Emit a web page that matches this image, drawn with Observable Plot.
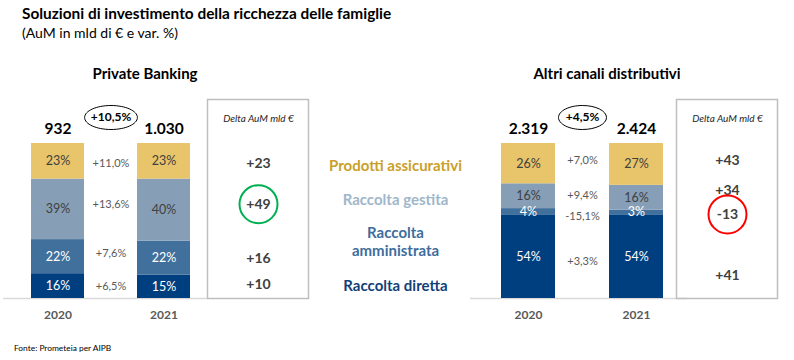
<!DOCTYPE html>
<html><head><meta charset="utf-8">
<script src="https://cdn.jsdelivr.net/npm/d3@7"></script>
<script src="https://cdn.jsdelivr.net/npm/@observablehq/plot@0.6"></script>
<style>
body{margin:0;background:#fff;}
#root{position:relative;width:794px;height:360px;overflow:hidden;font-family:Lato, sans-serif;background:#fff;}
#root svg{position:absolute;left:0;top:0;}
.t{position:absolute;white-space:nowrap;line-height:1;}
</style></head><body>
<div id="root">
  <div class="t" style="left:22px;top:6px;font-size:15.4px;font-weight:bold;color:#000">Soluzioni di investimento della ricchezza delle famiglie</div>
  <div class="t" style="left:22px;top:26px;font-size:14px;color:#000">(AuM in mld di € e var. %)</div>
  <div class="t" style="left:45px;width:200px;text-align:center;top:66px;font-size:15px;font-weight:bold;color:#000">Private Banking</div>
  <div class="t" style="left:507px;width:200px;text-align:center;top:66px;font-size:15px;font-weight:bold;color:#000">Altri canali distributivi</div>
  <div class="t" style="left:14px;top:344px;font-size:8.4px;color:#000">Fonte: Prometeia per AIPB</div>
</div>
<script>
// ---- data ----
const years = ["2020", "2021"];
const segments = ["Raccolta diretta", "Raccolta amministrata", "Raccolta gestita", "Prodotti assicurativi"];
const segmentColors = ["#003F7F", "#41709C", "#879FB6", "#E8C46A"];
const legendColors = ["#133F77", "#3E6D9C", "#A0B6C9", "#C9A02A"];

// Private Banking
const pbShare2020 = [16, 22, 39, 23];
const pbShare2021 = [15, 22, 40, 23];
const pbTotal = [932, 1030];
const pbTotalGrowth = 10.5;
const pbGrowth = [6.5, 7.6, 13.6, 11.0];
const pbDelta = [10, 16, 49, 23];

// Altri canali distributivi
const acShare2020 = [54, 4, 16, 26];
const acShare2021 = [54, 3, 16, 27];
const acTotal = [2319, 2424];
const acTotalGrowth = 4.5;
const acGrowth = [3.3, -15.1, 9.4, 7.0];
const acDelta = [41, -13, 34, 43];

// ---- helpers ----
const it = d3.formatLocale({decimal: ",", thousands: ".", grouping: [3], currency: ["", "€"], minus: "-"});
const fPct = v => it.format("+.1f")(v) + "%";
const fTot = it.format(",d");
const fDelta = it.format("+d");
const FONT = "Lato, sans-serif";

function stackRows(s2020, s2021) {
  const rows = [];
  [s2020, s2021].forEach((shares, j) => {
    let acc = 0;
    shares.forEach((v, i) => {
      rows.push({year: years[j], seg: segments[i], idx: i, v, y1: acc, y2: acc + v, mid: acc + v / 2});
      acc += v;
    });
  });
  return rows;
}

function ellipse(aspect) {
  return {
    draw(ctx, size) {
      const r = Math.sqrt(size / Math.PI), rx = r * aspect, ry = r, k = 0.5523;
      ctx.moveTo(rx, 0);
      ctx.bezierCurveTo(rx, ry * k, rx * k, ry, 0, ry);
      ctx.bezierCurveTo(-rx * k, ry, -rx, ry * k, -rx, 0);
      ctx.bezierCurveTo(-rx, -ry * k, -rx * k, -ry, 0, -ry);
      ctx.bezierCurveTo(rx * k, -ry, rx, -ry * k, rx, 0);
      ctx.closePath();
    }
  };
}

function panel({s2020, s2021, totals, totalGrowth, growth, xRange, lineX, growthNudge, aspect}) {
  const rows = stackRows(s2020, s2021);
  const avgMid = segments.map((s, i) => (rows[i].mid + rows[i + 4].mid) / 2);
  return Plot.plot({
    width: 794, height: 360,
    marginLeft: lineX[0], marginRight: 794 - lineX[1], marginTop: 143, marginBottom: 62,
    x: {type: "band", domain: ["2020", "var", "2021"], range: xRange, padding: 0},
    y: {domain: [0, 100], axis: null},
    color: {domain: segments, range: segmentColors},
    style: {background: "transparent", fontFamily: FONT, overflow: "visible"},
    marks: [
      Plot.ruleY([0], {stroke: "#d9d9d9", strokeWidth: 1.5}),
      Plot.rectY(rows, {x: "year", y1: "y1", y2: "y2", fill: "seg"}),
      Plot.text(rows, {x: "year", y: "mid", text: d => d.v + "%", fill: d => d.idx < 2 ? "#ffffff" : "#404040", fontSize: 12.5}),
      Plot.text(years.map((yr, j) => ({yr, t: totals[j]})), {x: "yr", y: () => 100, dy: -14, text: d => fTot(d.t), fontWeight: "bold", fontSize: 15.5, fill: "#000"}),
      Plot.dot([totalGrowth], {x: () => "var", y: () => 100, dy: -26, r: 12, symbol: ellipse(aspect), stroke: "#000", fill: "none", strokeWidth: 1}),
      Plot.text([totalGrowth], {x: () => "var", y: () => 100, dy: -26, text: d => fPct(d), fontWeight: "bold", fontSize: 12, fill: "#000"}),
      ...growth.map((g, i) => Plot.text([g], {x: () => "var", y: () => avgMid[i], dy: growthNudge[i], text: d => fPct(d), fontSize: 11, fill: "#595959"})),
      Plot.axisX({ticks: years, tickSize: 0, tickPadding: 12, fontWeight: "bold", fontSize: 12, color: "#595959", label: null})
    ]
  });
}

function deltaPanel({deltas, s2021, boxX, nudge, highlight, hlColor}) {
  const rows = stackRows(s2021, s2021).slice(4);
  return Plot.plot({
    width: 794, height: 360,
    marginLeft: boxX[0], marginRight: 794 - boxX[1], marginTop: 99, marginBottom: 62,
    x: {type: "band", domain: ["Δ"], axis: null},
    y: {domain: [0, 100], range: [298, 143], axis: null},
    style: {background: "transparent", fontFamily: FONT, overflow: "visible"},
    marks: [
      Plot.frame({stroke: "#bfbfbf", strokeWidth: 1.5}),
      Plot.text(["Delta AuM mld €"], {x: () => "Δ", y: () => 100, dy: -25, text: d => d, fontStyle: "italic", fontSize: 10, fill: "#262626"}),
      ...deltas.map((v, i) => Plot.text([v], {x: () => "Δ", y: () => rows[i].mid, dy: nudge[i], text: d => fDelta(d), fontWeight: "bold", fontSize: 14, fill: "#404040"})),
      Plot.dot([deltas[highlight]], {x: () => "Δ", y: () => rows[highlight].mid, dy: nudge[highlight], r: 19, stroke: hlColor, strokeWidth: 2, fill: "none"})
    ]
  });
}

function legendPlot() {
  const nudge = [0, -4, -6, 0];
  return Plot.plot({
    width: 794, height: 360,
    marginLeft: 320, marginRight: 794 - 470, marginTop: 0, marginBottom: 0,
    y: {type: "point", domain: segments, range: [285, 165], padding: 0, axis: null},
    color: {domain: segments, range: legendColors},
    style: {background: "transparent", fontFamily: FONT, overflow: "visible"},
    marks: segments.map((s, i) => Plot.text([s], {
      y: d => d, fill: d => d, dy: nudge[i],
      text: d => d === "Raccolta amministrata" ? "Raccolta\namministrata" : d,
      fontWeight: "bold", fontSize: 15, lineHeight: 1.2
    }))
  });
}

const root = document.getElementById("root");
root.append(
  panel({s2020: pbShare2020, s2021: pbShare2021, totals: pbTotal, totalGrowth: pbTotalGrowth, growth: pbGrowth,
         xRange: [30, 191], lineX: [3, 207], growthNudge: [0, -4, -5, 2], aspect: 2.2}),
  deltaPanel({deltas: pbDelta, s2021: pbShare2021, boxX: [207, 308], nudge: [-2, 0, -6, 2], highlight: 2, hlColor: "#00B050"}),
  legendPlot(),
  panel({s2020: acShare2020, s2021: acShare2021, totals: acTotal, totalGrowth: acTotalGrowth, growth: acGrowth,
         xRange: [500, 663], lineX: [470, 687], growthNudge: [5, 4.5, -1.5, -3.5], aspect: 2.0}),
  deltaPanel({deltas: acDelta, s2021: acShare2021, boxX: [676, 777], nudge: [19, 2, -7, -4], highlight: 1, hlColor: "#FF0000"})
);
</script>
</body></html>
